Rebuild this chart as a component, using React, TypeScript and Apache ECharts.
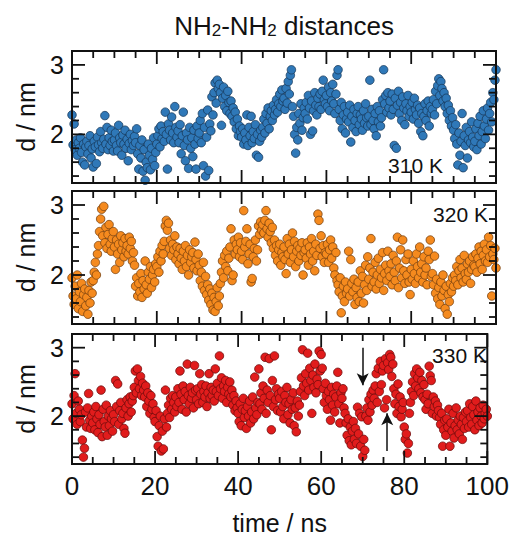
import React, { useEffect, useRef } from "react";
import * as echarts from "echarts";

// sampling step of the trajectories (ns)
const TIME_STEP_NS = 0.25;

// NH2-NH2 distance (nm), 0 ns .. 100 ns every 0.25 ns
const dist310K = [
  2.28, 1.85, 2.15, 1.78, 1.92, 1.70, 1.88, 1.80, 1.95, 1.74, 1.60, 1.86, 1.56, 1.82, 1.90, 1.72, 1.84, 1.98, 1.66, 1.79,
  1.53, 1.90, 1.82, 1.58, 1.96, 1.85, 1.75, 2.04, 1.88, 1.80, 1.93, 2.27, 1.86, 2.10, 1.78, 1.95, 1.84, 2.06, 1.90, 1.76,
  1.92, 2.02, 1.84, 1.76, 2.13, 1.95, 1.88, 1.70, 1.99, 1.86, 2.06, 1.80, 1.93, 1.62, 1.87, 2.00, 1.78, 1.91, 1.84, 1.97,
  1.88, 2.08, 1.72, 1.50, 1.84, 1.66, 1.92, 1.47, 1.78, 1.34, 1.60, 1.52, 1.86, 1.70, 1.49, 1.80, 1.64, 1.95, 1.55, 1.74,
  1.86, 1.98, 2.08, 1.82, 2.12, 1.94, 2.04, 1.90, 2.32, 2.00, 1.50, 2.15, 2.06, 1.92, 2.25, 2.02, 1.88, 2.40, 2.10, 1.96,
  2.05, 1.88, 2.14, 1.72, 1.98, 2.32, 1.84, 1.62, 2.02, 1.92, 1.51, 2.10, 1.80, 1.95, 1.68, 2.06, 1.86, 1.50, 2.12, 1.94,
  2.02, 2.20, 1.88, 2.30, 1.55, 2.10, 1.40, 1.96, 2.35, 1.48, 2.15, 2.05, 2.54, 2.28, 2.60, 2.74, 2.45, 2.78, 2.66, 2.72,
  2.60, 2.13, 2.52, 2.68, 2.40, 2.56, 2.34, 2.62, 2.46, 2.30, 2.48, 2.26, 2.38, 2.18, 2.32, 2.08, 2.22, 1.98, 2.12, 2.04,
  1.96, 2.08, 1.86, 2.02, 1.92, 2.28, 1.84, 2.10, 1.98, 2.26, 1.88, 2.04, 1.94, 2.14, 1.70, 2.00, 1.67, 1.90, 2.06, 1.96,
  2.10, 2.22, 2.02, 2.30, 2.16, 2.38, 2.08, 2.26, 2.34, 2.20, 2.42, 2.28, 2.36, 2.50, 2.32, 2.44, 2.58, 2.40, 2.64, 2.48,
  2.52, 2.36, 2.66, 2.45, 2.76, 2.58, 2.85, 2.93, 2.40, 2.26, 2.00, 1.73, 2.10, 1.92, 2.30, 2.16, 2.44, 2.06, 2.24, 2.38,
  2.30, 2.46, 2.22, 2.56, 2.38, 2.00, 2.48, 2.05, 2.34, 2.60, 2.42, 2.28, 2.52, 2.40, 2.58, 2.36, 2.62, 2.78, 2.50, 2.44,
  2.56, 2.40, 2.68, 2.34, 2.60, 2.48, 2.72, 2.44, 2.30, 2.58, 2.85, 2.93, 2.36, 2.20, 2.46, 2.08, 2.28, 2.40, 2.02, 2.22,
  2.32, 2.18, 2.42, 1.89, 2.26, 2.10, 2.36, 2.20, 2.04, 2.30, 2.40, 2.14, 2.28, 2.22, 2.06, 2.34, 2.16, 2.44, 2.24, 2.12,
  2.26, 2.78, 2.14, 2.36, 2.20, 2.08, 2.30, 1.98, 2.40, 2.18, 2.34, 2.12, 2.24, 2.50, 2.93, 2.44, 2.56, 2.32, 2.60, 2.38,
  2.48, 2.28, 2.58, 2.36, 1.84, 2.52, 1.80, 2.42, 2.62, 2.30, 2.46, 2.20, 2.54, 2.38, 2.14, 2.44, 2.34, 2.56, 2.26, 2.40,
  2.32, 2.46, 2.22, 2.52, 2.36, 2.28, 2.42, 2.16, 2.38, 2.04, 2.30, 1.98, 2.26, 2.44, 2.20, 2.34, 2.48, 2.12, 2.40, 2.30,
  2.36, 2.50, 2.28, 2.62, 2.44, 2.70, 2.80, 2.56, 2.76, 2.66, 2.48, 2.60, 2.40, 2.52, 2.30, 2.42, 2.20, 2.34, 2.12, 2.24,
  2.06, 1.94, 2.14, 1.86, 1.56, 2.02, 1.70, 1.90, 2.30, 1.52, 1.98, 1.84, 2.10, 1.66, 1.92, 2.04, 1.88, 2.18, 1.96, 1.82,
  1.90, 2.08, 1.78, 2.16, 1.98, 2.26, 1.86, 2.04, 2.34, 2.12, 1.94, 2.22, 2.38, 2.06, 2.30, 2.46, 2.18, 2.60, 2.50, 2.78,
  2.93,
];

const dist320K = [
  1.96, 1.70, 1.58, 1.84, 1.66, 2.00, 1.52, 1.76, 1.62, 1.88, 1.48, 1.72, 1.80, 1.56, 1.68, 1.44, 1.78, 1.60, 1.90, 1.74,
  1.92, 2.04, 2.18, 2.00, 2.30, 2.42, 2.62, 2.80, 2.94, 2.56, 2.98, 2.46, 2.68, 2.38, 2.58, 2.72, 2.44, 2.34, 2.52, 2.62,
  2.40, 2.08, 2.50, 2.30, 2.44, 2.18, 2.56, 2.36, 2.46, 2.26, 2.52, 2.34, 2.42, 2.30, 2.54, 2.38, 2.48, 2.20, 2.32, 2.14,
  1.84, 1.96, 1.70, 1.88, 1.76, 2.02, 1.68, 1.92, 1.80, 2.20, 1.86, 1.74, 2.04, 1.94, 2.12, 1.82, 2.00, 2.08, 1.90, 2.16,
  2.12, 2.26, 2.04, 2.34, 2.20, 2.42, 2.30, 2.48, 2.70, 2.78, 2.64, 2.74, 2.38, 2.50, 2.28, 2.44, 2.36, 2.56, 2.22, 2.40,
  2.30, 2.16, 2.38, 2.24, 2.08, 2.34, 2.20, 2.42, 2.12, 2.28, 2.00, 2.36, 2.18, 2.26, 2.32, 2.10, 2.47, 2.22, 2.06, 2.30,
  2.14, 1.92, 2.04, 1.84, 2.18, 1.78, 1.98, 1.72, 1.86, 1.64, 1.80, 1.58, 1.74, 1.50, 1.68, 1.48, 1.62, 1.82, 1.56, 1.70,
  1.88, 2.04, 2.20, 1.96, 2.28, 2.12, 2.34, 2.06, 2.24, 2.40, 2.66, 1.92, 2.00, 2.50, 2.30, 2.44, 2.36, 2.54, 2.26, 2.46,
  2.34, 2.22, 2.92, 2.40, 2.48, 2.66, 2.16, 2.30, 2.44, 1.90, 1.95, 2.26, 2.38, 2.50, 2.20, 2.36, 2.70, 2.58, 2.76, 2.64,
  2.72, 2.60, 2.78, 2.92, 2.66, 2.54, 2.74, 2.62, 2.46, 2.68, 2.38, 2.50, 2.28, 2.42, 2.20, 2.36, 2.44, 2.14, 2.32, 2.26,
  2.40, 2.22, 2.02, 2.52, 2.30, 2.44, 2.18, 2.36, 2.60, 2.26, 2.48, 2.12, 2.34, 2.42, 2.20, 2.38, 2.28, 2.46, 2.00, 2.32,
  2.36, 2.24, 2.46, 2.14, 2.40, 2.30, 2.52, 2.20, 2.34, 2.06, 2.44, 2.28, 2.87, 2.78, 2.38, 2.56, 2.26, 2.42, 2.18, 2.32,
  2.30, 2.44, 2.18, 2.36, 2.50, 2.24, 2.40, 2.10, 2.00, 2.32, 1.92, 1.86, 1.76, 1.96, 1.46, 1.70, 1.84, 1.62, 1.90, 1.74,
  1.80, 2.34, 1.70, 2.22, 1.88, 1.76, 1.94, 1.58, 1.82, 1.68, 1.90, 1.62, 2.06, 1.74, 1.98, 1.60, 1.86, 2.14, 1.78, 2.26,
  1.94, 2.10, 2.52, 1.84, 2.04, 1.90, 2.18, 1.80, 2.00, 2.24, 1.88, 2.08, 1.96, 2.32, 1.78, 2.02, 2.14, 1.92, 2.34, 2.06,
  1.98, 2.16, 1.86, 2.28, 2.04, 1.92, 2.20, 2.54, 1.82, 2.10, 2.36, 1.96, 2.50, 2.06, 1.88, 2.22, 2.00, 2.30, 1.90, 1.72,
  2.08, 1.94, 2.20, 2.02, 1.88, 2.30, 2.12, 1.96, 2.40, 2.04, 2.16, 1.90, 2.26, 2.00, 2.10, 1.86, 2.34, 2.22, 2.50, 1.98,
  2.02, 1.86, 2.27, 1.74, 1.94, 1.66, 1.82, 1.58, 1.90, 1.70, 2.00, 1.78, 1.52, 1.84, 1.44, 1.72, 1.62, 1.88, 1.76, 1.96,
  1.84, 2.00, 1.92, 2.12, 1.86, 2.06, 2.22, 1.96, 2.10, 1.90, 2.28, 2.02, 1.94, 2.16, 2.04, 2.20, 1.88, 2.08, 2.26, 2.14,
  2.12, 2.30, 2.04, 2.24, 2.40, 2.16, 2.34, 2.08, 2.28, 2.44, 2.20, 2.36, 2.18, 2.54, 2.26, 2.42, 1.70, 2.30, 2.22, 2.38,
  2.10,
];

const dist330K = [
  2.18, 1.96, 2.30, 2.62, 2.04, 1.88, 2.22, 2.10, 1.92, 2.02, 1.65, 1.40, 1.53, 2.06, 1.84, 2.12, 2.33, 1.94, 1.82, 2.00,
  1.90, 2.06, 1.80, 2.14, 1.96, 1.76, 2.02, 1.88, 2.38, 1.70, 2.10, 1.92, 1.84, 2.16, 1.72, 2.00, 1.86, 2.08, 1.96, 1.78,
  2.02, 1.92, 2.52, 2.14, 2.47, 1.88, 2.08, 2.20, 1.96, 2.04, 1.82, 1.75, 2.12, 2.24, 2.00, 2.18, 2.28, 2.06, 2.22, 2.30,
  2.42, 2.66, 2.34, 2.69, 2.52, 2.40, 2.58, 2.30, 2.48, 2.38, 2.28, 2.44, 2.14, 2.34, 2.22, 2.04, 2.30, 2.10, 2.18, 1.98,
  1.92, 2.08, 1.70, 1.56, 1.86, 2.00, 1.49, 1.78, 1.52, 1.96, 2.38, 1.84, 2.04, 2.16, 1.98, 2.26, 2.10, 2.30, 2.20, 2.06,
  2.28, 2.14, 2.40, 2.20, 2.66, 2.32, 2.10, 2.44, 2.24, 2.36, 2.06, 2.76, 2.30, 2.18, 2.42, 2.26, 2.34, 2.12, 2.74, 2.38,
  2.24, 2.40, 2.18, 2.62, 2.32, 2.46, 2.20, 2.36, 2.28, 2.44, 2.14, 2.34, 2.62, 2.26, 2.42, 2.30, 2.38, 2.22, 2.69, 2.36,
  2.48, 2.30, 2.88, 2.40, 2.56, 2.26, 2.44, 2.36, 2.52, 2.20, 2.42, 2.32, 2.50, 2.28, 2.38, 2.16, 2.30, 2.08, 2.22, 2.12,
  2.04, 1.92, 2.18, 1.86, 2.10, 2.26, 1.98, 2.08, 1.82, 2.14, 2.00, 2.22, 1.90, 2.06, 2.28, 1.96, 2.57, 2.12, 2.02, 2.20,
  2.69, 2.18, 2.34, 2.10, 2.44, 2.26, 2.86, 2.04, 2.38, 2.20, 2.84, 2.30, 1.80, 2.52, 2.14, 2.88, 2.24, 2.40, 2.08, 2.32,
  2.26, 2.06, 2.36, 2.14, 1.96, 2.30, 2.20, 2.42, 2.02, 2.18, 1.90, 2.24, 2.10, 2.34, 1.86, 2.12, 1.77, 2.22, 2.00, 2.16,
  2.36, 2.56, 2.97, 2.44, 2.30, 2.62, 2.48, 2.92, 2.38, 2.70, 2.52, 2.04, 2.60, 2.42, 2.76, 2.34, 2.54, 2.46, 2.95, 2.66,
  2.90, 2.70, 2.40, 2.20, 2.48, 2.30, 2.10, 2.36, 2.24, 1.94, 2.42, 2.16, 2.32, 2.06, 2.28, 2.44, 2.64, 2.18, 1.90, 2.34,
  2.26, 2.40, 2.12, 2.04, 1.90, 1.72, 1.96, 1.64, 1.84, 1.58, 1.78, 1.92, 1.66, 1.82, 1.60, 2.13, 1.74, 2.04, 1.56, 1.99,
  1.41, 1.66, 1.50, 2.00, 2.12, 1.94, 2.24, 2.06, 2.32, 2.16, 2.38, 2.26, 2.44, 2.62, 2.20, 2.70, 2.36, 2.80, 2.46, 2.66,
  2.74, 2.12, 2.84, 2.24, 2.78, 2.68, 2.90, 2.86, 2.58, 2.76, 2.40, 2.18, 2.32, 2.04, 2.47, 2.14, 2.28, 1.99, 2.10, 2.20,
  1.84, 1.66, 1.74, 1.46, 1.60, 2.04, 2.20, 2.36, 2.50, 2.30, 2.62, 2.44, 2.69, 2.56, 2.40, 2.64, 2.34, 2.52, 2.28, 2.46,
  2.24, 2.10, 2.32, 2.18, 2.73, 2.59, 2.52, 2.04, 2.28, 2.14, 2.22, 2.00, 2.16, 2.08, 1.98, 1.88, 2.04, 1.56, 1.80, 1.94,
  1.72, 1.96, 1.84, 2.10, 1.56, 1.90, 1.78, 2.04, 1.68, 1.86, 2.12, 1.80, 1.94, 1.74, 2.00, 1.88, 1.66, 1.98, 1.82, 2.06,
  1.92, 2.08, 1.84, 2.18, 1.98, 1.88, 2.14, 2.02, 1.80, 2.22, 1.94, 2.06, 1.86, 2.12, 2.00, 1.90, 2.16, 1.96, 2.04, 2.10,
  2.00,
];

const panelLabels = ["310 K", "320 K", "330 K"];
const panelFill = ["#2f78b8", "#f58a1e", "#e11c1c"];
const panelEdge = ["#183a5c", "#7a4210", "#700c0c"];

// axis ranges and ticks
const X_MIN = 0;
const X_MAX = 100;
const Y_MIN = 1.3;
const Y_MAX = 3.2;
const xMajorTicks = [0, 20, 40, 60, 80, 100];
const xMinorTicks = [5, 10, 15, 25, 30, 35, 45, 50, 55, 65, 70, 75, 85, 90, 95];
const yMajorTicks = [2, 3];
const yMinorTicks = [1.4, 1.6, 1.8, 2.2, 2.4, 2.6, 2.8];

// arrows in the 330 K panel: [time, distance] start -> end
const arrowDown = [[70.0, 3.0], [70.0, 2.45]];
const arrowUp = [[75.9, 1.49], [75.9, 2.04]];

const FONT = "'Liberation Sans', Arial, Helvetica, sans-serif";
const INK = "#111";
const FRAME = "#111111";
const MAJOR_LEN = 13; // px
const MINOR_LEN = 7; // px
const TICK_W = 1.8; // px

export default function App() {
  const ref = useRef<HTMLDivElement>(null);

  useEffect(() => {
    if (!ref.current) return;
    const chart = echarts.init(ref.current, undefined, { renderer: "svg" });

    const grids = [
      { left: 72, top: 51, width: 424, height: 132 },
      { left: 72, top: 191, width: 424, height: 133 },
      { left: 72, top: 334, width: 424, height: 131 },
    ];
    const labelY = [165, 214, 355];
    const labelRight = [443, 488, 487];

    const xAxes: any[] = [];
    const yAxes: any[] = [];
    const series: any[] = [];
    const datasets = [dist310K, dist320K, dist330K];

    // frame edges and tick marks, drawn through the axes' scales
    const frameAndTicks = (_params: any, api: any) => {
      const p00 = api.coord([X_MIN, Y_MIN]);
      const p11 = api.coord([X_MAX, Y_MAX]);
      const x0 = p00[0], y0 = p00[1], x1 = p11[0], y1 = p11[1];
      const lines: any[] = [];
      const st = { stroke: FRAME, lineWidth: TICK_W };
      xMajorTicks.concat(xMinorTicks).forEach((v) => {
        const len = xMajorTicks.indexOf(v) >= 0 ? MAJOR_LEN : MINOR_LEN;
        const x = api.coord([v, Y_MIN])[0];
        lines.push({ type: "line", shape: { x1: x, y1: y0, x2: x, y2: y0 - len }, style: st });
        lines.push({ type: "line", shape: { x1: x, y1: y1, x2: x, y2: y1 + len }, style: st });
      });
      yMajorTicks.concat(yMinorTicks).forEach((v) => {
        const len = yMajorTicks.indexOf(v) >= 0 ? MAJOR_LEN : MINOR_LEN;
        const y = api.coord([X_MIN, v])[1];
        lines.push({ type: "line", shape: { x1: x0, y1: y, x2: x0 + len, y2: y }, style: st });
        lines.push({ type: "line", shape: { x1: x1, y1: y, x2: x1 - len, y2: y }, style: st });
      });
      lines.push({
        type: "rect",
        shape: { x: x0, y: y1, width: x1 - x0, height: y0 - y1 },
        style: { stroke: FRAME, lineWidth: 2, fill: "none" },
      });
      return { type: "group", children: lines };
    };

    grids.forEach((_g, i) => {
      xAxes.push({
        gridIndex: i,
        type: "value",
        min: X_MIN,
        max: X_MAX,
        interval: 20,
        axisLine: { show: false },
        axisTick: { show: false },
        splitLine: { show: false },
        axisLabel: { show: i === 2, customValues: xMajorTicks, fontSize: 26, color: INK, fontFamily: FONT, margin: 9 },
        name: i === 2 ? "time / ns" : "",
        nameLocation: "middle",
        nameGap: 46,
        nameTextStyle: { fontSize: 25, color: INK, fontFamily: FONT },
      });
      yAxes.push({
        gridIndex: i,
        type: "value",
        min: Y_MIN,
        max: Y_MAX,
        axisLine: { show: false },
        axisTick: { show: false },
        splitLine: { show: false },
        axisLabel: { customValues: yMajorTicks, fontSize: 25, color: INK, fontFamily: FONT, margin: 8 },
        name: "d / nm",
        nameLocation: "middle",
        nameGap: 34,
        nameRotate: 90,
        nameTextStyle: { fontSize: 25, color: INK, fontFamily: FONT },
      });

      const s: any = {
        type: "scatter",
        xAxisIndex: i,
        yAxisIndex: i,
        symbol: "circle",
        symbolSize: 8.5,
        z: 2,
        itemStyle: { color: panelFill[i], borderColor: panelEdge[i], borderWidth: 0.8, opacity: 1 },
        data: datasets[i].map((v, k) => [k * TIME_STEP_NS, v]),
        clip: true,
        silent: true,
      };
      if (i === 2) {
        s.markLine = {
          silent: true,
          symbol: ["none", "arrow"],
          symbolSize: [9, 12],
          label: { show: false },
          lineStyle: { color: INK, width: 1.5, type: "solid" },
          data: [
            [{ coord: arrowDown[0] }, { coord: arrowDown[1] }],
            [{ coord: arrowUp[0] }, { coord: arrowUp[1] }],
          ],
        };
      }
      series.push(s);

      // one item: the frame with its ticks
      series.push({
        type: "custom",
        coordinateSystem: "cartesian2d",
        xAxisIndex: i,
        yAxisIndex: i,
        z: 6,
        silent: true,
        data: [[X_MIN, Y_MIN]],
        renderItem: frameAndTicks,
      });
    });

    const graphic: any[] = [
      {
        type: "text",
        x: 284,
        y: 8,
        style: {
          text: "{a|NH}{s|2}{a|-NH}{s|2}{a| distances}",
          align: "center",
          verticalAlign: "top",
          rich: {
            a: { fontSize: 26, fontFamily: FONT, fill: INK, lineHeight: 31, verticalAlign: "bottom" },
            s: { fontSize: 17, fontFamily: FONT, fill: INK, lineHeight: 11, verticalAlign: "bottom" },
          },
        },
      },
      ...panelLabels.map((t, i) => ({
        type: "text",
        x: labelRight[i],
        y: labelY[i],
        z: 10,
        style: { text: t, fontSize: 21, fontFamily: FONT, fill: INK, align: "right", verticalAlign: "middle" },
      })),
    ];

    chart.setOption({
      animation: false,
      backgroundColor: "#ffffff",
      grid: grids,
      xAxis: xAxes,
      yAxis: yAxes,
      series,
      graphic,
    });

    return () => chart.dispose();
  }, []);

  return (
    <div
      ref={ref}
      style={{ position: "fixed", left: 0, top: 0, width: 512, height: 536, background: "#fff" }}
    />
  );
}
